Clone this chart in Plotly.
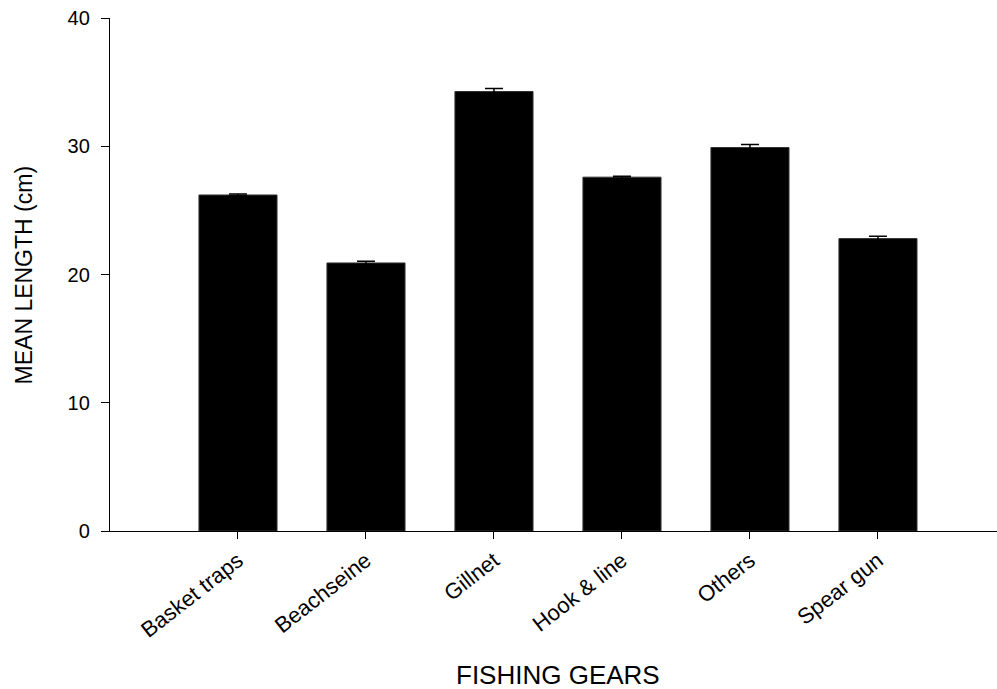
import plotly.graph_objects as go

categories = ["Basket traps", "Beachseine", "Gillnet", "Hook & line", "Others", "Spear gun"]
mean_length = [26.2, 20.9, 34.27, 27.59, 29.9, 22.8]
std_error = [0.07, 0.13, 0.23, 0.08, 0.23, 0.18]
y_ticks = [0, 10, 20, 30, 40]

FONT = "Liberation Sans, Arial, sans-serif"

fig = go.Figure()
fig.add_trace(go.Bar(
    x=categories,
    y=mean_length,
    width=0.61,
    marker=dict(color="black", line=dict(color="#333333", width=1)),
    error_y=dict(type="data", array=std_error, visible=True,
                 color="black", thickness=1.5, width=9),
    showlegend=False,
))

fig.update_layout(
    width=997, height=689,
    margin=dict(l=110, r=0, t=18, b=158),
    plot_bgcolor="white", paper_bgcolor="white",
    font=dict(family=FONT, color="black"),
    bargap=0.39,
)

fig.update_xaxes(
    type="category",
    range=[-1, 5.93],
    showline=True, linecolor="black", linewidth=1.4,
    ticks="outside", ticklen=7, tickwidth=1.3, tickcolor="black",
    tickangle=-38,
    tickfont=dict(family=FONT, size=22, color="black"),
    showgrid=False, zeroline=False,
)
fig.update_yaxes(
    range=[0, 40],
    tickvals=y_ticks,
    showline=True, linecolor="black", linewidth=1.4,
    ticks="outside", ticklen=8, tickwidth=1.3, tickcolor="black",
    tickfont=dict(family=FONT, size=20, color="black"),
    ticklabelstandoff=7,
    showgrid=False, zeroline=False,
)

fig.add_annotation(
    text="MEAN LENGTH (cm)", textangle=-90,
    xref="paper", yref="paper", x=-0.097, y=0.5,
    xanchor="center", yanchor="middle", showarrow=False,
    font=dict(family=FONT, size=23, color="black"),
)
fig.add_annotation(
    text="FISHING GEARS",
    xref="paper", yref="paper", x=0.505, y=-0.281,
    xanchor="center", yanchor="middle", showarrow=False,
    font=dict(family=FONT, size=26, color="black"),
)

fig.write_html(
    "out.html",
    config={"displayModeBar": False},
    post_script="document.body.style.margin='0';document.body.style.overflow='hidden';",
)
